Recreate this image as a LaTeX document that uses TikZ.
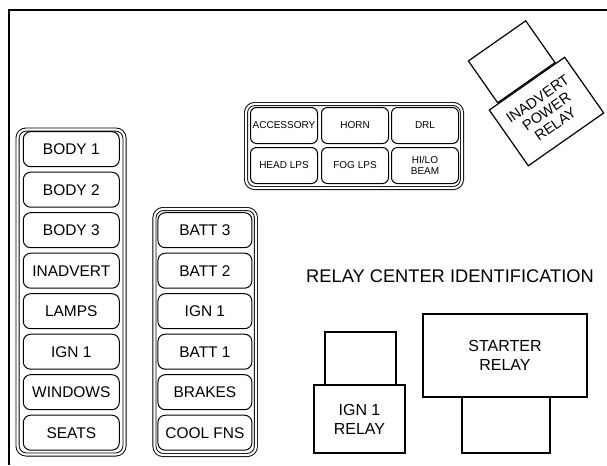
\documentclass[tikz,border=0pt]{standalone}
\usepackage{fontspec}
\setmainfont{Liberation Sans}
\begin{document}
\begin{tikzpicture}[x=0.75pt,y=-0.75pt,
  fuse/.style={draw, line width=0.75pt, rounded corners=5.5pt, minimum width=72pt, minimum height=26.25pt, inner sep=0pt, font=\fontsize{11.6}{12}\selectfont},
  rfuse/.style={fuse, minimum width=70.5pt},
  tfuse/.style={draw, line width=0.75pt, rounded corners=4.5pt, minimum width=50.25pt, minimum height=27pt, inner sep=0pt, align=center, font=\fontsize{7.5}{7.9}\selectfont},
  holder/.style={draw, line width=0.7pt, double=white, double distance=1.6pt, rounded corners=6.5pt, inner sep=0pt},
  relay/.style={draw, line width=0.9pt, fill=white, inner sep=0pt, align=center, font=\fontsize{12}{14.25}\selectfont},
  title/.style={inner sep=0pt, font=\fontsize{13.7}{15}\selectfont}
]
\useasboundingbox (0,0) rectangle (607,465);
% frame
\draw[line width=1.5pt] (9,465) -- (9,10) -- (607,10);

% left fuse holder
\node[holder, minimum width=80.25pt, minimum height=243.75pt] (lh) at (71,292) {};
\foreach \t [count=\i from 0] in {BODY 1,BODY 2,BODY 3,INADVERT,LAMPS,IGN 1,WINDOWS,SEATS}
  \node[fuse] (l\i) at (71.3,149.2+\i*40.5) {\t};

% right fuse holder
\node[holder, minimum width=76.1pt, minimum height=184.5pt] (rh) at (205.2,332) {};
\foreach \t [count=\i from 2] in {BATT 3,BATT 2,IGN 1,BATT 1,BRAKES,COOL FNS}
  \node[rfuse] (r\i) at (204.9,149.2+\i*40.5) {\t};

% top fuse holder
\node[holder, minimum width=162pt, minimum height=63pt] (th) at (354,146) {};
\node[tfuse] (t1) at (284,125.5) {ACCESSORY};
\node[tfuse] (t2) at (355,125.5) {HORN};
\node[tfuse] (t3) at (425,125.5) {DRL};
\node[tfuse] (t4) at (284,165.5) {HEAD LPS};
\node[tfuse] (t5) at (355,165.5) {FOG LPS};
\node[tfuse] (t6) at (425,165.5) {HI/LO\\BEAM};

% inadvert power relay
\node[relay, rotate=35, minimum width=69pt, minimum height=51pt, font=\fontsize{10.9}{11.6}\selectfont] (ipr) at (546.5,111.5) {INADVERT\\POWER\\RELAY};
\node[relay, rotate=35, anchor=south, minimum width=52.5pt, minimum height=38.25pt] (iprs) at (ipr.north) {};

% title
\node[title] (ttl) at (450,276) {RELAY CENTER IDENTIFICATION};

% IGN 1 relay
\node[relay, minimum width=53.25pt, minimum height=39.75pt] (igs) at (360.5,358.5) {};
\node[relay, minimum width=68.25pt, minimum height=51pt] (igr) at (359.5,419) {IGN 1\\RELAY};

% starter relay
\node[relay, minimum width=66pt, minimum height=42pt] (sts) at (506,425) {};
\node[relay, minimum width=123pt, minimum height=62.25pt] (str) at (505,355.5) {STARTER\\RELAY};
\end{tikzpicture}
\end{document}
